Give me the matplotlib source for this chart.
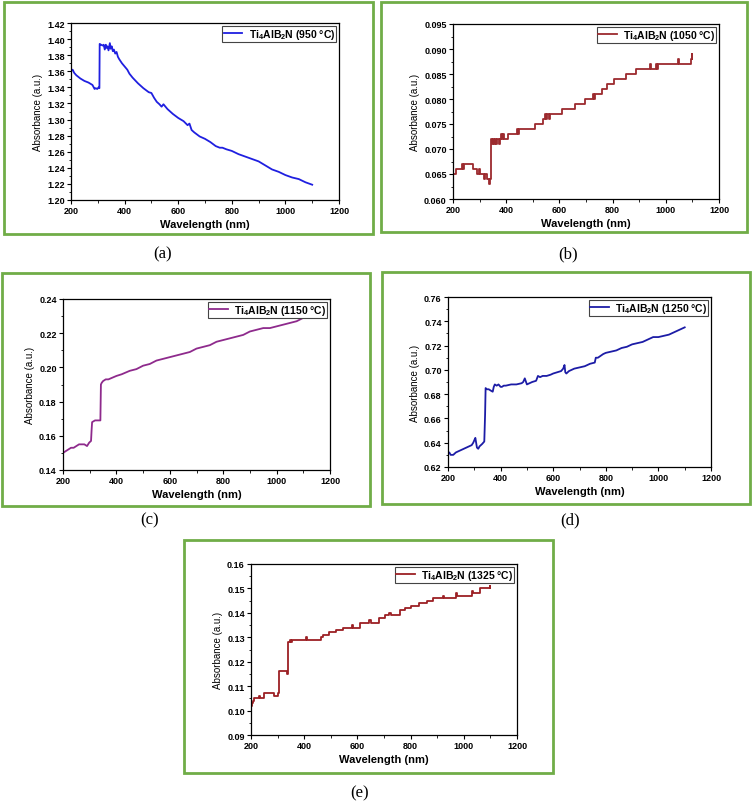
import numpy as np
import matplotlib
matplotlib.use('Agg')
import matplotlib.pyplot as plt
from matplotlib.patches import Rectangle
from matplotlib.ticker import MultipleLocator, AutoMinorLocator

plt.rcParams['font.family'] = ['Liberation Sans', 'DejaVu Sans']
plt.rcParams['mathtext.fontset'] = 'custom'
plt.rcParams['mathtext.rm'] = 'Liberation Sans:bold'
plt.rcParams['mathtext.bf'] = 'Liberation Sans:bold'
plt.rcParams['mathtext.default'] = 'bf'

# (a) 950 C
wl_a = [200, 203, 206, 212, 220, 235, 250, 265, 280, 288, 292, 298, 303,
        306, 307, 312, 318, 322, 326, 330, 333, 336, 340, 345, 348, 352,
        356, 360, 365, 370, 375, 380, 390, 400, 410, 418, 430, 450, 470,
        490, 500, 510, 520, 530, 538, 545, 560, 580, 600, 620, 635, 642,
        650, 660, 680, 700, 720, 740, 755, 765, 780, 800, 825, 850, 875,
        900, 925, 950, 975, 1000, 1025, 1050, 1075, 1100]
abs_a = [1.363, 1.361, 1.362, 1.358, 1.355, 1.351, 1.348, 1.346, 1.343,
         1.338, 1.339, 1.338, 1.340, 1.339, 1.394, 1.393, 1.392, 1.393,
         1.387, 1.393, 1.389, 1.391, 1.386, 1.395, 1.388, 1.391, 1.385,
         1.387, 1.382, 1.384, 1.378, 1.375, 1.370, 1.366, 1.362, 1.357,
         1.352, 1.345, 1.339, 1.334, 1.333, 1.327, 1.322, 1.319, 1.316,
         1.319, 1.313, 1.307, 1.302, 1.298, 1.293, 1.295, 1.287, 1.284,
         1.279, 1.276, 1.272, 1.267, 1.265, 1.265, 1.263, 1.261, 1.257,
         1.254, 1.251, 1.248, 1.243, 1.238, 1.235, 1.231, 1.228, 1.226,
         1.222, 1.219]

# (b) 1050 C  (step trace)
wl_b = [200, 210, 232, 236, 240, 275, 292, 296, 300, 315, 322, 326, 335,
        338, 342, 345, 350, 353, 358, 362, 366, 372, 376, 380, 384, 388,
        392, 405, 435, 440, 445, 448, 452, 510, 540, 545, 550, 555, 560,
        565, 570, 608, 612, 660, 663, 695, 727, 731, 733, 760, 778, 782,
        805, 850, 888, 940, 943, 963, 967, 970, 973, 1045, 1048, 1095,
        1097, 1100]
abs_b = [0.065, 0.066, 0.067, 0.066, 0.067, 0.066, 0.065, 0.066, 0.065,
         0.064, 0.065, 0.064, 0.063, 0.064, 0.072, 0.071, 0.072, 0.071,
         0.072, 0.071, 0.072, 0.071, 0.072, 0.073, 0.072, 0.073, 0.072,
         0.073, 0.073, 0.074, 0.073, 0.074, 0.074, 0.075, 0.076, 0.077,
         0.076, 0.077, 0.076, 0.077, 0.077, 0.078, 0.078, 0.079, 0.079,
         0.080, 0.081, 0.080, 0.081, 0.082, 0.083, 0.083, 0.084, 0.085,
         0.086, 0.087, 0.086, 0.087, 0.086, 0.087, 0.087, 0.088, 0.087,
         0.088, 0.089, 0.088]

# (c) 1150 C
wl_c = [200, 210, 220, 230, 240, 250, 260, 270, 280, 290, 298, 305, 307,
        309, 320, 330, 340, 342, 345, 350, 360, 370, 385, 400, 420, 450,
        475, 500, 525, 550, 575, 600, 625, 650, 675, 700, 725, 750, 775,
        800, 825, 850, 875, 900, 925, 950, 975, 1000, 1025, 1050, 1075,
        1100]
abs_c = [0.150, 0.151, 0.152, 0.153, 0.153, 0.154, 0.155, 0.155, 0.155,
         0.154, 0.156, 0.157, 0.163, 0.168, 0.169, 0.169, 0.169, 0.190,
         0.191, 0.192, 0.193, 0.193, 0.194, 0.195, 0.196, 0.198, 0.199,
         0.201, 0.202, 0.204, 0.205, 0.206, 0.207, 0.208, 0.209, 0.211,
         0.212, 0.213, 0.215, 0.216, 0.217, 0.218, 0.219, 0.221, 0.222,
         0.223, 0.223, 0.224, 0.225, 0.226, 0.227, 0.229]

# (d) 1250 C
wl_d = [200, 205, 210, 220, 230, 240, 250, 260, 270, 280, 290, 296, 300,
        304, 307, 310, 315, 320, 330, 338, 341, 343, 348, 355, 362, 370,
        374, 378, 385, 392, 400, 405, 412, 420, 440, 460, 480, 486, 492,
        500, 510, 520, 535, 542, 550, 560, 575, 590, 600, 615, 630, 638,
        643, 646, 650, 660, 680, 700, 720, 740, 758, 762, 770, 790, 800,
        820, 840, 860, 880, 900, 920, 940, 960, 980, 1000, 1020, 1040,
        1060, 1080, 1100]
abs_d = [0.631, 0.632, 0.630, 0.630, 0.632, 0.633, 0.634, 0.635, 0.636,
         0.637, 0.638, 0.640, 0.642, 0.644, 0.640, 0.636, 0.635, 0.637,
         0.639, 0.641, 0.663, 0.685, 0.684, 0.684, 0.683, 0.682, 0.686,
         0.688, 0.687, 0.688, 0.686, 0.686, 0.687, 0.687, 0.688, 0.688,
         0.689, 0.690, 0.693, 0.688, 0.689, 0.690, 0.691, 0.695, 0.694,
         0.695, 0.695, 0.696, 0.697, 0.698, 0.699, 0.701, 0.704, 0.698,
         0.697, 0.699, 0.701, 0.702, 0.703, 0.705, 0.706, 0.710, 0.710,
         0.713, 0.714, 0.715, 0.716, 0.718, 0.719, 0.721, 0.722, 0.723,
         0.725, 0.727, 0.727, 0.728, 0.729, 0.731, 0.733, 0.735]

# (e) 1325 C  (step trace)
wl_e = [200, 204, 208, 213, 230, 235, 248, 285, 292, 300, 307, 335, 340,
        348, 352, 356, 360, 405, 410, 465, 470, 495, 520, 545, 580, 585,
        610, 645, 650, 680, 705, 720, 725, 760, 780, 800, 830, 860, 885,
        922, 927, 970, 975, 1030, 1033, 1060, 1097, 1100]
abs_e = [0.102, 0.103, 0.104, 0.105, 0.106, 0.105, 0.107, 0.106, 0.106,
         0.107, 0.116, 0.115, 0.128, 0.129, 0.128, 0.129, 0.129, 0.130,
         0.129, 0.130, 0.131, 0.132, 0.133, 0.134, 0.135, 0.134, 0.136,
         0.137, 0.136, 0.138, 0.139, 0.140, 0.139, 0.141, 0.142, 0.143,
         0.144, 0.145, 0.146, 0.147, 0.146, 0.148, 0.147, 0.149, 0.148,
         0.150, 0.151, 0.150]

GREEN = '#70ad47'
W, H = 753, 804

# (series, temperature, colour, steps, ylim, ytick step, axes px box, border px box, caption px)
panels = [
    (wl_a, abs_a, '950', '#1f1fe0', False, (1.20, 1.42), 0.02, '%.2f',
     (71, 24, 339, 201), (4, 3, 373, 235), (163, 254), '(a)'),
    (wl_b, abs_b, '1050', '#9c2a2e', True, (0.060, 0.095), 0.005, '%.3f',
     (453, 25, 719, 200), (381, 3, 747, 233), (568, 254), '(b)'),
    (wl_c, abs_c, '1150', '#8e2a8c', False, (0.14, 0.24), 0.02, '%.2f',
     (63, 300, 330, 471), (2, 274, 370, 507), (150, 520), '(c)'),
    (wl_d, abs_d, '1250', '#1c1ca6', False, (0.62, 0.76), 0.02, '%.2f',
     (448, 298, 711, 468), (382, 273, 750, 505), (570, 520), '(d)'),
    (wl_e, abs_e, '1325', '#9c2024', True, (0.09, 0.16), 0.01, '%.2f',
     (251, 565, 517, 736), (184, 541, 553, 774), (360, 793), '(e)'),
]

fig = plt.figure(figsize=(W / 100, H / 100), dpi=100)

for (wl, ab, temp, color, steps, ylim, ystep, fmt,
     ax_box, border, cap, cap_text) in panels:
    bx0, by0, bx1, by1 = border
    fig.patches.append(Rectangle((bx0 / W, 1 - by1 / H), (bx1 - bx0) / W,
                                 (by1 - by0) / H, transform=fig.transFigure,
                                 fill=False, edgecolor=GREEN, linewidth=2))
    x0, y0, x1, y1 = ax_box
    ax = fig.add_axes([x0 / W, 1 - y1 / H, (x1 - x0) / W, (y1 - y0) / H])
    label = r'Ti$_4$AlB$_2$N (%s °C)' % temp
    ax.plot(wl, ab, color=color, linewidth=1.3, label=label,
            drawstyle='steps-post' if steps else 'default')
    ax.set_xlim(200, 1200)
    ax.set_ylim(*ylim)
    ax.xaxis.set_major_locator(MultipleLocator(200))
    ax.yaxis.set_major_locator(MultipleLocator(ystep))
    ax.xaxis.set_minor_locator(AutoMinorLocator(2))
    ax.yaxis.set_minor_locator(AutoMinorLocator(2))
    ax.yaxis.set_major_formatter(plt.FormatStrFormatter(fmt))
    ax.tick_params(which='major', direction='out', length=3, width=0.8,
                   labelsize=6.5, pad=1.5)
    ax.tick_params(which='minor', direction='out', length=1.8, width=0.6)
    for t in ax.get_xticklabels() + ax.get_yticklabels():
        t.set_fontweight('bold')
    for sp in ax.spines.values():
        sp.set_linewidth(0.9)
    ax.set_xlabel('Wavelength (nm)', fontsize=8, fontweight='bold',
                  labelpad=3)
    ax.set_ylabel('Absorbance (a.u.)', fontsize=7, labelpad=3)
    leg = ax.legend(loc='upper right', handlelength=1.8,
                    handletextpad=0.6, borderpad=0.12, borderaxespad=0.25,
                    fancybox=False, framealpha=1, edgecolor='#444444',
                    prop={'weight': 'bold', 'size': 7.5})
    leg.get_frame().set_linewidth(0.8)
    fig.text(cap[0] / W, 1 - cap[1] / H, cap_text, ha='center', va='center',
             fontsize=12, family=['Liberation Serif', 'DejaVu Serif'])

fig.savefig('out.png', dpi=100)
